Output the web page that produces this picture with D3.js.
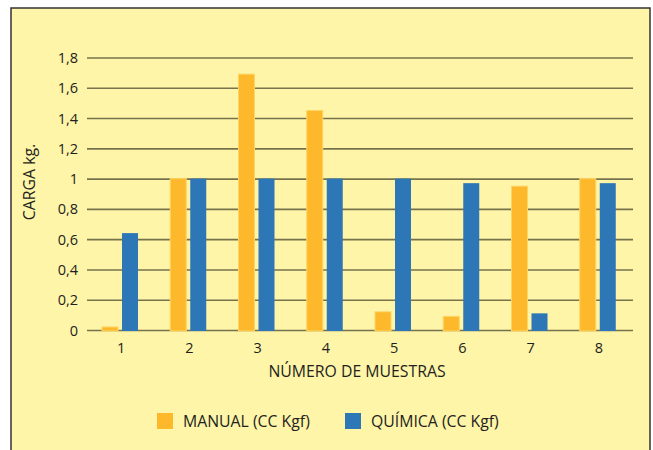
<!DOCTYPE html>
<html><head><meta charset="utf-8">
<script src="https://cdn.jsdelivr.net/npm/d3@7"></script>
<style>body{margin:0;background:#fff}svg{display:block}text{font-family:"Open Sans","Noto Sans",sans-serif;fill:#231f20}</style>
</head><body><svg id="c" width="653" height="450"></svg>
<script>
const categories = ["1","2","3","4","5","6","7","8"];
const manual = [0.02, 1.0, 1.69, 1.45, 0.12, 0.09, 0.95, 1.0];
const quimica = [0.64, 1.0, 1.0, 1.0, 1.0, 0.97, 0.11, 0.97];
const seriesNames = ["MANUAL (CC Kgf)", "QUÍMICA (CC Kgf)"];
const yTicks = [0, 0.2, 0.4, 0.6, 0.8, 1, 1.2, 1.4, 1.6, 1.8];
const colors = ["#FDB92B", "#2E77B7"];

const svg = d3.select("#c");
svg.append("rect").attr("x",11).attr("y",8).attr("width",639).attr("height",460)
  .attr("fill","#FEF5A8").attr("stroke","#333").attr("stroke-width",1.5);

const pL = 87, pR = 633, pT = 57.5, pB = 330;
const x = d3.scaleBand().domain(categories).range([pL, pR]).paddingInner(0).paddingOuter(0);
const y = d3.scaleLinear().domain([0, 1.8]).range([pB, pT]);
const fmt = d => String(d).replace(".", ",");

const yAxis = d3.axisLeft(y).tickValues(yTicks).tickSize(-(pR-pL)).tickFormat(fmt);
const gy = svg.append("g").attr("transform",`translate(${pL},0)`).call(yAxis);
gy.select(".domain").remove();
gy.selectAll(".tick line").attr("stroke","#76734c").attr("stroke-width",1.6);
gy.selectAll(".tick text").attr("x",-9).attr("font-size",14.5).attr("dy","0.35em");

const sub = d3.scaleBand().domain([0,1]).range([15, 51]).paddingInner(0.2).paddingOuter(0);
const g = svg.append("g");
categories.forEach((c,i) => {
  [manual[i], quimica[i]].forEach((v,k) => {
    g.append("rect").attr("x", x(c)+sub(k)).attr("y", y(v))
      .attr("width", sub.bandwidth()).attr("height", y(0)-y(v)+1)
      .attr("fill", colors[k])
      .attr("stroke", k===0 ? "#FDD564" : "none").attr("stroke-width", k===0 ? 1 : 0);
  });
});

const xAxis = d3.axisBottom(x).tickSize(0);
const gx = svg.append("g").attr("transform",`translate(0,${pB})`).call(xAxis);
gx.select(".domain").remove();
gx.selectAll(".tick text").attr("font-size",14.5).attr("dy","1.4em");

svg.append("text").attr("x",357).attr("y",377).attr("text-anchor","middle").attr("font-size",15.8).text("NÚMERO DE MUESTRAS");
svg.append("text").attr("transform","translate(35,182) rotate(-90)").attr("text-anchor","middle").attr("font-size",15.8).text("CARGA kg.");

const legX = [157, 345];
seriesNames.forEach((n,k) => {
  svg.append("rect").attr("x",legX[k]).attr("y",413).attr("width",16).attr("height",16).attr("fill",colors[k]);
  svg.append("text").attr("x",legX[k]+26).attr("y",427).attr("font-size",15.8).text(n);
});
</script></body></html>
